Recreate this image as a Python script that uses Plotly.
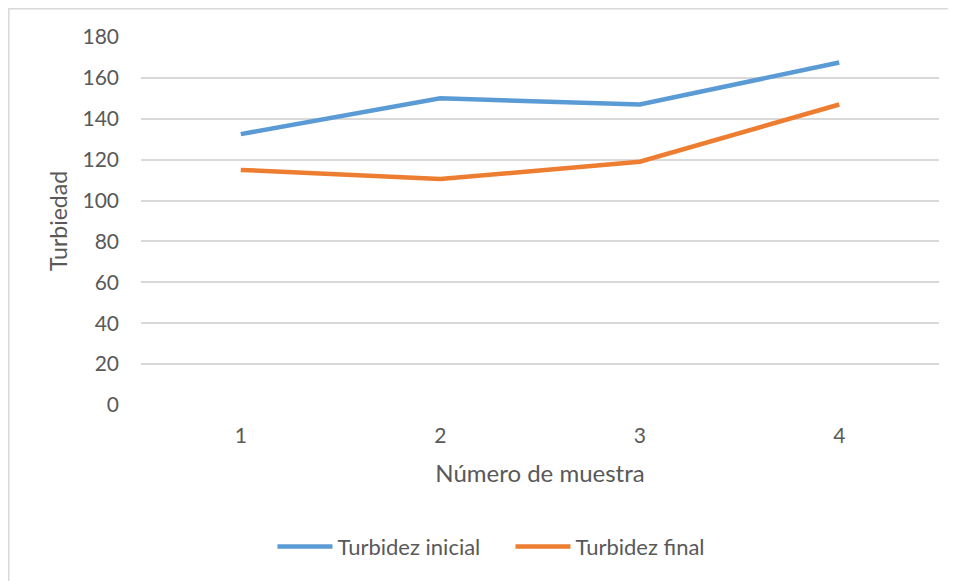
import plotly.graph_objects as go

categories = ["1", "2", "3", "4"]
turbidez_inicial = [132.5, 150, 147, 167.5]
turbidez_final = [115, 110.5, 119, 147]
y_ticks = [0, 20, 40, 60, 80, 100, 120, 140, 160, 180]

FONT = "Lato"
TXT = "#595959"

W, H = 948, 573
L, R, T, B = 133, 17, 29, 176
PW, PH = W - L - R, H - T - B

fig = go.Figure()
fig.add_trace(go.Scatter(x=categories, y=turbidez_inicial, mode="lines",
                         name="Turbidez inicial",
                         line=dict(color="#5B9BD5", width=4.5)))
fig.add_trace(go.Scatter(x=categories, y=turbidez_final, mode="lines",
                         name="Turbidez final",
                         line=dict(color="#ED7D31", width=4.5)))

fig.update_layout(
    width=W, height=H,
    margin=dict(l=L, r=R, t=T, b=B),
    paper_bgcolor="white", plot_bgcolor="white",
    font=dict(family=FONT, color=TXT, size=21),
    showlegend=True,
    legend=dict(orientation="h", x=0.463, xanchor="center", y=-0.385, yanchor="middle",
                font=dict(size=22, color=TXT), itemwidth=55, tracegroupgap=0,
                entrywidth=168),
    shapes=[dict(type="rect", xref="paper", yref="paper",
                 x0=(0.8 - L) / PW, x1=(W + 30 - L) / PW,
                 y0=-(B + 30) / PH, y1=1 + (T - 0.8) / PH,
                 line=dict(color="#D9D9D9", width=1.5), fillcolor="rgba(0,0,0,0)",
                 layer="below")],
)
fig.update_xaxes(type="category", range=[-0.5, 3.5], showgrid=False, zeroline=False,
                 showline=False, ticks="", ticklabelstandoff=16,
                 title=dict(text="Número de muestra", standoff=19, font=dict(size=24, color=TXT)),
                 tickfont=dict(size=21, color=TXT))
fig.update_yaxes(range=[0, 180], tickvals=y_ticks, showgrid=True, gridcolor="#D9D9D9",
                 gridwidth=1.5, zeroline=False, showline=False, ticks="",
                 ticklabelstandoff=21,
                 title=dict(text="Turbiedad", standoff=8, font=dict(size=23, color=TXT)),
                 tickfont=dict(size=21, color=TXT))

fig.write_html("out.html")
